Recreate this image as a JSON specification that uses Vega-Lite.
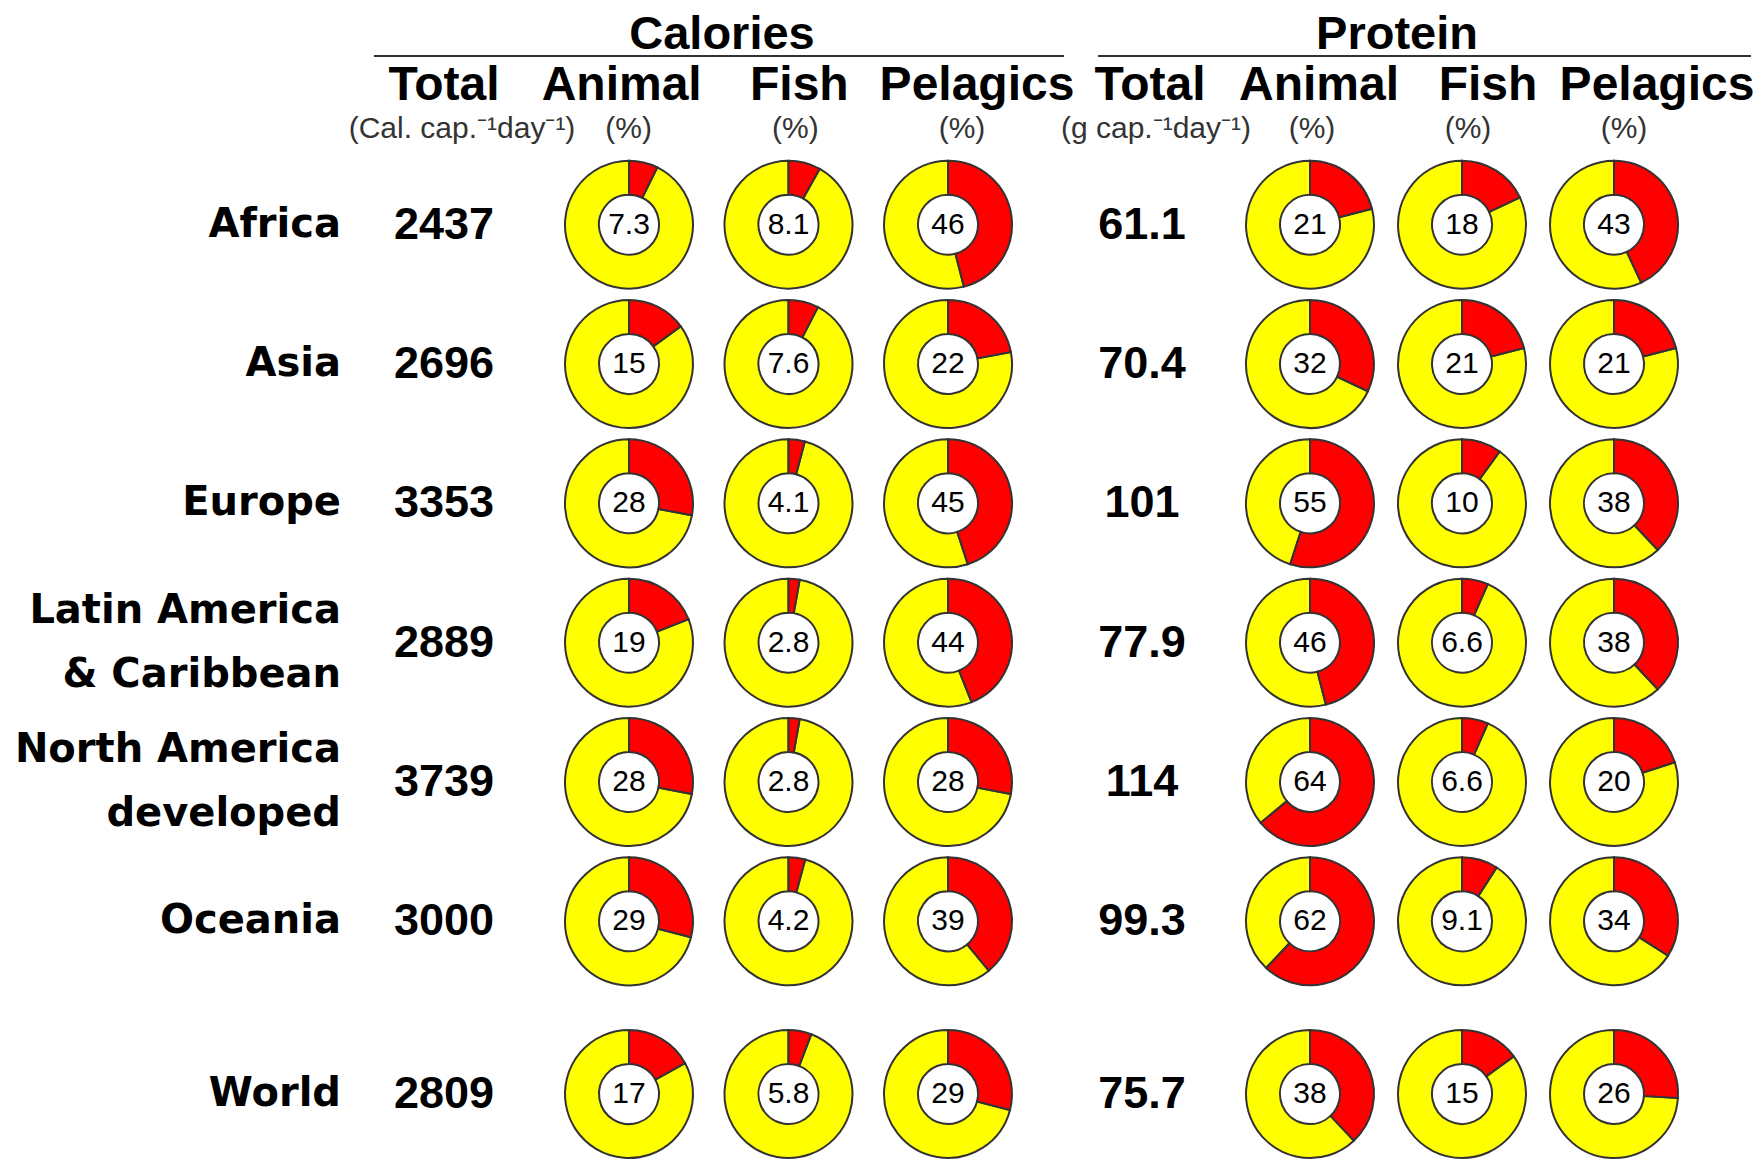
{
  "$schema": "https://vega.github.io/schema/vega-lite/v6.json",
  "padding": 0,
  "background": "white",
  "spacing": 40,
  "bounds": "flush",
  "config": {"view": {"stroke": null}},
  "datasets": {
    "cells": [
      {"region": "Africa", "calTotal": 2437, "calAnimal": 7.3, "calFish": 8.1, "calPelagics": 46, "protTotal": 61.1, "protAnimal": 21, "protFish": 18, "protPelagics": 43},
      {"region": "Asia", "calTotal": 2696, "calAnimal": 15, "calFish": 7.6, "calPelagics": 22, "protTotal": 70.4, "protAnimal": 32, "protFish": 21, "protPelagics": 21},
      {"region": "Europe", "calTotal": 3353, "calAnimal": 28, "calFish": 4.1, "calPelagics": 45, "protTotal": 101, "protAnimal": 55, "protFish": 10, "protPelagics": 38},
      {"region": "Latin America\n& Caribbean", "calTotal": 2889, "calAnimal": 19, "calFish": 2.8, "calPelagics": 44, "protTotal": 77.9, "protAnimal": 46, "protFish": 6.6, "protPelagics": 38},
      {"region": "North America\ndeveloped", "calTotal": 3739, "calAnimal": 28, "calFish": 2.8, "calPelagics": 28, "protTotal": 114, "protAnimal": 64, "protFish": 6.6, "protPelagics": 20},
      {"region": "Oceania", "calTotal": 3000, "calAnimal": 29, "calFish": 4.2, "calPelagics": 39, "protTotal": 99.3, "protAnimal": 62, "protFish": 9.1, "protPelagics": 34},
      {"region": "World", "calTotal": 2809, "calAnimal": 17, "calFish": 5.8, "calPelagics": 29, "protTotal": 75.7, "protAnimal": 38, "protFish": 15, "protPelagics": 26}
    ],
    "headers": [
      {"level": "group", "col": "calAnimal", "label": "Calories"},
      {"level": "group", "col": "protAnimal", "label": "Protein"},
      {"level": "col", "col": "calTotal", "label": "Total"},
      {"level": "col", "col": "calAnimal", "label": "Animal"},
      {"level": "col", "col": "calFish", "label": "Fish"},
      {"level": "col", "col": "calPelagics", "label": "Pelagics"},
      {"level": "col", "col": "protTotal", "label": "Total"},
      {"level": "col", "col": "protAnimal", "label": "Animal"},
      {"level": "col", "col": "protFish", "label": "Fish"},
      {"level": "col", "col": "protPelagics", "label": "Pelagics"},
      {"level": "unit", "col": "calTotal", "label": "(Cal. cap.⁻¹day⁻¹)"},
      {"level": "unit", "col": "calAnimal", "label": "(%)"},
      {"level": "unit", "col": "calFish", "label": "(%)"},
      {"level": "unit", "col": "calPelagics", "label": "(%)"},
      {"level": "unit", "col": "protTotal", "label": "(g cap.⁻¹day⁻¹)"},
      {"level": "unit", "col": "protAnimal", "label": "(%)"},
      {"level": "unit", "col": "protFish", "label": "(%)"},
      {"level": "unit", "col": "protPelagics", "label": "(%)"}
    ]
  },
  "vconcat": [
    {
      "width": 1762,
      "height": 115,
      "data": {"name": "headers"},
      "resolve": {"scale": {"x": "independent"}},
      "encoding": {
        "x": {"field": "col", "type": "nominal", "axis": null, "scale": {"type": "point", "domain": ["calTotal", "calAnimal", "calFish", "calPelagics", "protTotal", "protAnimal", "protFish", "protPelagics"], "range": [445, 1663], "padding": 0}},
        "y": {"field": "level", "type": "nominal", "axis": null, "scale": {"type": "point", "domain": ["group", "col", "unit"], "range": [35, 127], "padding": 0}}
      },
      "layer": [
        {
          "transform": [{"filter": "datum.label === 'Calories'"}],
          "mark": {"type": "text", "font": "Liberation Sans", "fontWeight": "bold", "fontSize": 47, "dx": 103, "color": "#000"},
          "encoding": {"text": {"field": "label", "type": "nominal"}}
        },
        {
          "transform": [{"filter": "datum.label === 'Protein'"}],
          "mark": {"type": "text", "font": "Liberation Sans", "fontWeight": "bold", "fontSize": 47, "dx": 82, "color": "#000"},
          "encoding": {"text": {"field": "label", "type": "nominal"}}
        },
        {
          "transform": [{"filter": "datum.label === 'Calories'"}],
          "mark": {"type": "rule", "xOffset": -71, "x2Offset": 97, "yOffset": 21, "strokeWidth": 2, "color": "#333"},
          "encoding": {"x": {"datum": "calTotal"}, "x2": {"datum": "calPelagics"}}
        },
        {
          "transform": [{"filter": "datum.label === 'Protein'"}],
          "mark": {"type": "rule", "xOffset": -43, "x2Offset": 88, "yOffset": 21, "strokeWidth": 2, "color": "#333"},
          "encoding": {"x": {"datum": "protTotal"}, "x2": {"datum": "protPelagics"}}
        },
        {
          "transform": [{"filter": "datum.level === 'col' && indexof(datum.col, 'cal') === 0"}],
          "mark": {"type": "text", "font": "Liberation Sans", "fontWeight": "bold", "fontSize": 48, "dy": 5, "color": "#000"},
          "encoding": {
            "x": {"field": "col", "type": "nominal", "axis": null, "scale": {"type": "point", "domain": ["calTotal", "calAnimal", "calFish", "calPelagics"], "range": [444, 977], "padding": 0}},
            "text": {"field": "label", "type": "nominal"}
          }
        },
        {
          "transform": [{"filter": "datum.level === 'col' && indexof(datum.col, 'prot') === 0"}],
          "mark": {"type": "text", "font": "Liberation Sans", "fontWeight": "bold", "fontSize": 48, "dy": 5, "color": "#000"},
          "encoding": {
            "x": {"field": "col", "type": "nominal", "axis": null, "scale": {"type": "point", "domain": ["protTotal", "protAnimal", "protFish", "protPelagics"], "range": [1150, 1657], "padding": 0}},
            "text": {"field": "label", "type": "nominal"}
          }
        },
        {
          "transform": [{"filter": "datum.level === 'unit' && indexof(datum.col, 'cal') === 0"}],
          "mark": {"type": "text", "font": "Liberation Sans", "fontSize": 30, "dy": 2, "color": "#333"},
          "encoding": {
            "x": {"field": "col", "type": "nominal", "axis": null, "scale": {"type": "point", "domain": ["calTotal", "calAnimal", "calFish", "calPelagics"], "range": [462, 962], "padding": 0}},
            "text": {"field": "label", "type": "nominal"}
          }
        },
        {
          "transform": [{"filter": "datum.level === 'unit' && indexof(datum.col, 'prot') === 0"}],
          "mark": {"type": "text", "font": "Liberation Sans", "fontSize": 30, "dy": 2, "color": "#333"},
          "encoding": {
            "x": {"field": "col", "type": "nominal", "axis": null, "scale": {"type": "point", "domain": ["protTotal", "protAnimal", "protFish", "protPelagics"], "range": [1156, 1624], "padding": 0}},
            "text": {"field": "label", "type": "nominal"}
          }
        }
      ]
    },
    {
      "width": 1762,
      "height": 836,
      "data": {"name": "cells"},
      "transform": [
        {"filter": "datum.region !== 'World'"},
        {"fold": ["calTotal", "calAnimal", "calFish", "calPelagics", "protTotal", "protAnimal", "protFish", "protPelagics"], "as": ["metric", "value"]}
      ],
      "resolve": {"scale": {"x": "independent"}},
      "encoding": {
        "y": {"field": "region", "type": "nominal", "axis": null, "scale": {"type": "point", "domain": ["Africa", "Asia", "Europe", "Latin America\n& Caribbean", "North America\ndeveloped", "Oceania"], "padding": 0.5}}
      },
      "layer": [
        {
          "transform": [{"filter": "datum.metric === 'calTotal' || datum.metric === 'protTotal'"}],
          "encoding": {
            "x": {"field": "metric", "type": "nominal", "axis": null, "scale": {"type": "point", "domain": ["calTotal", "protTotal"], "range": [444, 1142], "padding": 0}}
          },
          "layer": [
            {
              "transform": [{"filter": "datum.metric === 'calTotal' && indexof(datum.region, '\\n') < 0"}],
              "mark": {"type": "text", "align": "right", "dx": -103, "font": "DejaVu Sans", "fontWeight": "bold", "fontSize": 40, "color": "#000"},
              "encoding": {"text": {"field": "region", "type": "nominal"}}
            },
            {
              "transform": [{"filter": "datum.metric === 'calTotal' && indexof(datum.region, '\\n') >= 0"}],
              "mark": {"type": "text", "align": "right", "dx": -103, "dy": -32, "font": "DejaVu Sans", "fontWeight": "bold", "fontSize": 40, "lineBreak": "\n", "lineHeight": 64, "color": "#000"},
              "encoding": {"text": {"field": "region", "type": "nominal"}}
            },
            {
              "mark": {"type": "text", "font": "Liberation Sans", "fontWeight": "bold", "fontSize": 45, "color": "#000"},
              "encoding": {"text": {"field": "value", "type": "nominal"}}
            }
          ]
        },
        {
          "transform": [{"filter": "indexof(datum.metric, 'cal') === 0 && datum.metric !== 'calTotal'"}],
          "encoding": {
            "x": {"field": "metric", "type": "nominal", "axis": null, "scale": {"type": "point", "domain": ["calAnimal", "calFish", "calPelagics"], "range": [629, 948], "padding": 0}}
          },
          "layer": [
            {
              "mark": {"type": "arc", "innerRadius": 30, "outerRadius": 64, "fill": "#ffff00", "stroke": "#333", "strokeWidth": 2},
              "encoding": {
                "theta": {"field": "value", "type": "quantitative", "stack": null, "scale": {"domain": [0, 100]}},
                "theta2": {"datum": 100}
              }
            },
            {
              "mark": {"type": "arc", "innerRadius": 30, "outerRadius": 64, "fill": "#ff0000", "stroke": "#333", "strokeWidth": 2},
              "encoding": {
                "theta": {"field": "value", "type": "quantitative", "stack": null, "scale": {"domain": [0, 100]}},
                "theta2": {"datum": 0}
              }
            },
            {
              "mark": {"type": "text", "font": "Liberation Sans", "fontSize": 30, "color": "#000"},
              "encoding": {"text": {"field": "value", "type": "nominal"}}
            }
          ]
        },
        {
          "transform": [{"filter": "indexof(datum.metric, 'prot') === 0 && datum.metric !== 'protTotal'"}],
          "encoding": {
            "x": {"field": "metric", "type": "nominal", "axis": null, "scale": {"type": "point", "domain": ["protAnimal", "protFish", "protPelagics"], "range": [1310, 1614], "padding": 0}}
          },
          "layer": [
            {
              "mark": {"type": "arc", "innerRadius": 30, "outerRadius": 64, "fill": "#ffff00", "stroke": "#333", "strokeWidth": 2},
              "encoding": {
                "theta": {"field": "value", "type": "quantitative", "stack": null, "scale": {"domain": [0, 100]}},
                "theta2": {"datum": 100}
              }
            },
            {
              "mark": {"type": "arc", "innerRadius": 30, "outerRadius": 64, "fill": "#ff0000", "stroke": "#333", "strokeWidth": 2},
              "encoding": {
                "theta": {"field": "value", "type": "quantitative", "stack": null, "scale": {"domain": [0, 100]}},
                "theta2": {"datum": 0}
              }
            },
            {
              "mark": {"type": "text", "font": "Liberation Sans", "fontSize": 30, "color": "#000"},
              "encoding": {"text": {"field": "value", "type": "nominal"}}
            }
          ]
        }
      ]
    },
    {
      "width": 1762,
      "height": 126,
      "data": {"name": "cells"},
      "transform": [
        {"filter": "datum.region === 'World'"},
        {"fold": ["calTotal", "calAnimal", "calFish", "calPelagics", "protTotal", "protAnimal", "protFish", "protPelagics"], "as": ["metric", "value"]}
      ],
      "resolve": {"scale": {"x": "independent"}},
      "encoding": {
        "y": {"field": "region", "type": "nominal", "axis": null, "scale": {"type": "point", "domain": ["World"], "padding": 0.5}}
      },
      "layer": [
        {
          "transform": [{"filter": "datum.metric === 'calTotal' || datum.metric === 'protTotal'"}],
          "encoding": {
            "x": {"field": "metric", "type": "nominal", "axis": null, "scale": {"type": "point", "domain": ["calTotal", "protTotal"], "range": [444, 1142], "padding": 0}}
          },
          "layer": [
            {
              "transform": [{"filter": "datum.metric === 'calTotal'"}],
              "mark": {"type": "text", "align": "right", "dx": -103, "font": "DejaVu Sans", "fontWeight": "bold", "fontSize": 40, "color": "#000"},
              "encoding": {"text": {"field": "region", "type": "nominal"}}
            },
            {
              "mark": {"type": "text", "font": "Liberation Sans", "fontWeight": "bold", "fontSize": 45, "color": "#000"},
              "encoding": {"text": {"field": "value", "type": "nominal"}}
            }
          ]
        },
        {
          "transform": [{"filter": "indexof(datum.metric, 'cal') === 0 && datum.metric !== 'calTotal'"}],
          "encoding": {
            "x": {"field": "metric", "type": "nominal", "axis": null, "scale": {"type": "point", "domain": ["calAnimal", "calFish", "calPelagics"], "range": [629, 948], "padding": 0}}
          },
          "layer": [
            {
              "mark": {"type": "arc", "innerRadius": 30, "outerRadius": 64, "fill": "#ffff00", "stroke": "#333", "strokeWidth": 2},
              "encoding": {
                "theta": {"field": "value", "type": "quantitative", "stack": null, "scale": {"domain": [0, 100]}},
                "theta2": {"datum": 100}
              }
            },
            {
              "mark": {"type": "arc", "innerRadius": 30, "outerRadius": 64, "fill": "#ff0000", "stroke": "#333", "strokeWidth": 2},
              "encoding": {
                "theta": {"field": "value", "type": "quantitative", "stack": null, "scale": {"domain": [0, 100]}},
                "theta2": {"datum": 0}
              }
            },
            {
              "mark": {"type": "text", "font": "Liberation Sans", "fontSize": 30, "color": "#000"},
              "encoding": {"text": {"field": "value", "type": "nominal"}}
            }
          ]
        },
        {
          "transform": [{"filter": "indexof(datum.metric, 'prot') === 0 && datum.metric !== 'protTotal'"}],
          "encoding": {
            "x": {"field": "metric", "type": "nominal", "axis": null, "scale": {"type": "point", "domain": ["protAnimal", "protFish", "protPelagics"], "range": [1310, 1614], "padding": 0}}
          },
          "layer": [
            {
              "mark": {"type": "arc", "innerRadius": 30, "outerRadius": 64, "fill": "#ffff00", "stroke": "#333", "strokeWidth": 2},
              "encoding": {
                "theta": {"field": "value", "type": "quantitative", "stack": null, "scale": {"domain": [0, 100]}},
                "theta2": {"datum": 100}
              }
            },
            {
              "mark": {"type": "arc", "innerRadius": 30, "outerRadius": 64, "fill": "#ff0000", "stroke": "#333", "strokeWidth": 2},
              "encoding": {
                "theta": {"field": "value", "type": "quantitative", "stack": null, "scale": {"domain": [0, 100]}},
                "theta2": {"datum": 0}
              }
            },
            {
              "mark": {"type": "text", "font": "Liberation Sans", "fontSize": 30, "color": "#000"},
              "encoding": {"text": {"field": "value", "type": "nominal"}}
            }
          ]
        }
      ]
    }
  ]
}
